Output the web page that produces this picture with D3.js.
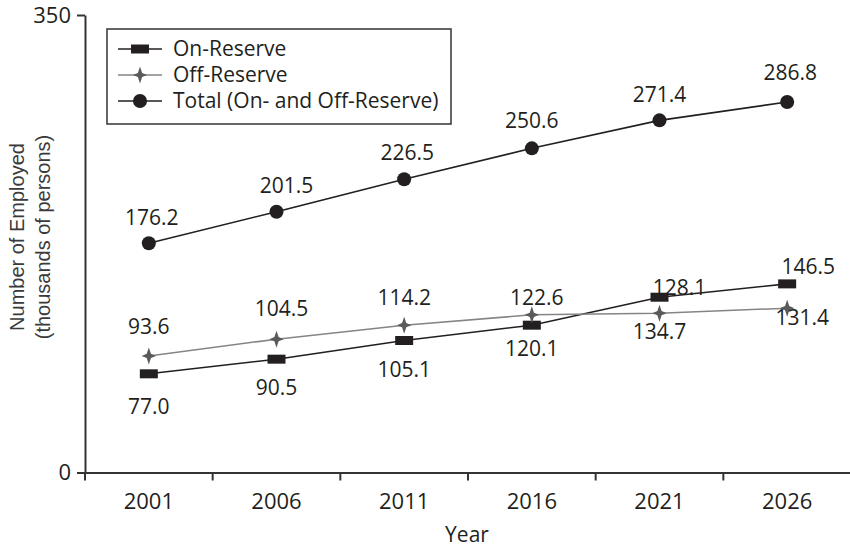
<!DOCTYPE html>
<html>
<head>
<meta charset="utf-8">
<script src="https://cdn.jsdelivr.net/npm/d3@7"></script>
<style>
  html, body { margin: 0; padding: 0; background: #fff; }
  svg { display: block; }
</style>
</head>
<body>
<svg id="chart" width="850" height="547"></svg>
<script>
// ---- data ----
const years = ["2001", "2006", "2011", "2016", "2021", "2026"];
// plotted positions
const onReserve  = [75.5, 86.7, 101.0, 112.7, 134.1, 144.3];
const offReserve = [89.2, 102.0, 112.7, 120.6, 121.9, 125.7];
const total      = [175.4, 199.5, 224.3, 248.0, 269.4, 283.4];
// printed data labels
const onLabels    = ["77.0", "90.5", "105.1", "120.1", "128.1", "146.5"];
const offLabels   = ["93.6", "104.5", "114.2", "122.6", "134.7", "131.4"];
const totalLabels = ["176.2", "201.5", "226.5", "250.6", "271.4", "286.8"];
const yTickValues = [0, 350];
const seriesNames = ["On-Reserve", "Off-Reserve", "Total (On- and Off-Reserve)"];

// ---- layout / style ----
const W = 850, H = 547;
const X0 = 85, X1 = 851, Y0 = 472.5, Y1 = 15;
const textColor = "#231f20";
const font = "'Open Sans', sans-serif";
const fs = 21;

// label offsets (dx, dy) relative to the marker centre
const onOff    = [[0, 33], [0, 28], [0, 29], [0, 23], [20, -10], [21, -17]];
const offOff   = [[0, -29], [5, -31], [0, -28], [5, -17], [0, 18], [15, 9]];
const totalOff = [[3, -26], [10, -26], [3, -27], [0, -28], [0, -26], [3, -29]];

const svg = d3.select("#chart");

const x = d3.scaleBand().domain(years).range([X0, X1]).padding(0);
const cx = d => x(d) + x.bandwidth() / 2;
const y = d3.scaleLinear().domain([0, 350]).range([Y0, Y1]);

// ---- custom symbols ----
const rectSym = {
  draw(ctx) { ctx.rect(-9, -4.5, 18, 9); }
};
const starSym = {
  draw(ctx) {
    const R = 8.5, r = 3;
    for (let i = 0; i < 8; i++) {
      const a = -Math.PI / 2 + i * Math.PI / 4;
      const rr = i % 2 === 0 ? R : r;
      const px = (i % 4 === 2 ? 0.85 : 1) * rr * Math.cos(a), py = rr * Math.sin(a);
      if (i === 0) ctx.moveTo(px, py); else ctx.lineTo(px, py);
    }
    ctx.closePath();
  }
};
const circSym = {
  draw(ctx) { ctx.moveTo(7, 0); ctx.arc(0, 0, 7, 0, 2 * Math.PI); }
};

const series = [
  { name: seriesNames[0], values: onReserve, labels: onLabels, offs: onOff,
    line: "#231f20", lw: 1.6, mark: "#231f20", sym: rectSym },
  { name: seriesNames[1], values: offReserve, labels: offLabels, offs: offOff,
    line: "#858585", lw: 1.5, mark: "#5a5a5c", sym: starSym },
  { name: seriesNames[2], values: total, labels: totalLabels, offs: totalOff,
    line: "#231f20", lw: 1.6, mark: "#231f20", sym: circSym }
];

// ---- axes ----
const yAxis = d3.axisLeft(y).tickValues(yTickValues).tickSize(8).tickSizeOuter(0).tickPadding(6);
const gy = svg.append("g").attr("transform", `translate(${X0},0)`).call(yAxis);
gy.select(".domain").attr("stroke", "#333").attr("stroke-width", 2);
gy.selectAll(".tick line").attr("stroke", "#333").attr("stroke-width", 2);
gy.selectAll(".tick text").attr("font-family", font).attr("font-size", 22).attr("fill", textColor);

const xAxis = d3.axisBottom(x).tickSize(0).tickSizeOuter(0).tickPadding(21);
const gx = svg.append("g").attr("transform", `translate(0,${Y0})`).call(xAxis);
gx.select(".domain").attr("stroke", "#333").attr("stroke-width", 2);
gx.selectAll(".tick text").attr("font-family", font).attr("font-size", 22).attr("fill", textColor);
// boundary ticks between categories
gx.selectAll(".btick").data(years).enter().append("line")
  .attr("x1", d => x(d)).attr("x2", d => x(d))
  .attr("y1", 0).attr("y2", 8)
  .attr("stroke", "#333").attr("stroke-width", 2);

// axis titles
svg.append("text").attr("x", 467).attr("y", 542)
  .attr("text-anchor", "middle").attr("font-family", font).attr("font-size", fs)
  .attr("fill", textColor).text("Year");

const yt = svg.append("text")
  .attr("transform", "translate(0,237) rotate(-90)")
  .attr("text-anchor", "middle")
  .attr("font-family", "'Liberation Sans', Arial, sans-serif")
  .attr("font-size", 20).attr("fill", "#3a3a3a");
yt.append("tspan").attr("x", 0).attr("y", 24).text("Number of Employed");
yt.append("tspan").attr("x", 0).attr("y", 50).text("(thousands of persons)");

// ---- series ----
const line = d3.line().x(d => cx(d.year)).y(d => y(d.v));
series.forEach(s => {
  const pts = years.map((yr, i) => ({ year: yr, v: s.values[i], label: s.labels[i], off: s.offs[i] }));
  const g = svg.append("g");
  g.append("path").datum(pts).attr("d", line)
    .attr("fill", "none").attr("stroke", s.line).attr("stroke-width", s.lw);
  g.selectAll("path.m").data(pts).enter().append("path").attr("class", "m")
    .attr("d", d3.symbol().type(s.sym))
    .attr("transform", d => `translate(${cx(d.year)},${y(d.v)})`)
    .attr("fill", s.mark);
  g.selectAll("text").data(pts).enter().append("text")
    .attr("x", d => cx(d.year) + d.off[0])
    .attr("y", d => y(d.v) + d.off[1])
    .attr("dy", "0.35em")
    .attr("text-anchor", "middle")
    .attr("font-family", font).attr("font-size", fs).attr("fill", textColor)
    .text(d => d.label);
});

// ---- legend ----
const lg = svg.append("g");
lg.append("rect").attr("x", 107).attr("y", 29).attr("width", 344).attr("height", 95)
  .attr("fill", "#fff").attr("stroke", "#333").attr("stroke-width", 1.5);
series.forEach((s, i) => {
  const yy = 49 + i * 26;
  lg.append("line").attr("x1", 118).attr("x2", 162).attr("y1", yy).attr("y2", yy)
    .attr("stroke", s.line).attr("stroke-width", s.lw);
  lg.append("path").attr("d", d3.symbol().type(s.sym))
    .attr("transform", `translate(140,${yy})`).attr("fill", s.mark);
  lg.append("text").attr("x", 173).attr("y", yy).attr("dy", "0.35em")
    .attr("font-family", font).attr("font-size", fs).attr("fill", textColor)
    .text(s.name);
});
</script>
</body>
</html>
